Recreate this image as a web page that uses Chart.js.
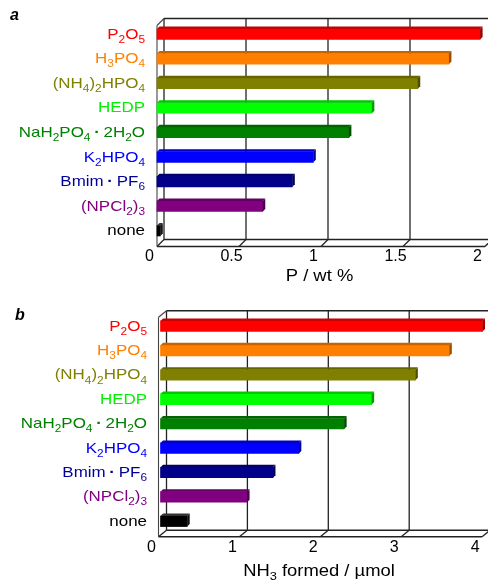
<!DOCTYPE html>
<html>
<head>
<meta charset="utf-8">
<script src="https://cdn.jsdelivr.net/npm/chart.js@4.4.1/dist/chart.umd.min.js"></script>
<style>
  html, body { margin: 0; padding: 0; background: #fff; }
  #wrap { position: relative; width: 488px; height: 580px; overflow: hidden; }
  .panel { position: absolute; left: 0; width: 488px; height: 290px; }
</style>
</head>
<body>
<div id="wrap">
  <div class="panel" style="top:0"><canvas id="chartA" width="488" height="290"></canvas></div>
  <div class="panel" style="top:290px"><canvas id="chartB" width="488" height="290"></canvas></div>
</div>
<script>
// "_x" means x is a subscript
const categories = [
  "P_2O_5", "H_3PO_4", "(NH_4)_2HPO_4", "HEDP", "NaH_2PO_4·2H_2O",
  "K_2HPO_4", "Bmim·PF_6", "(NPCl_2)_3", "none"
];
const barColors = [
  "#FF0000", "#FF8000", "#808000", "#00FF00", "#008000",
  "#0000FF", "#00008B", "#800080", "#000000"
];
const labelColors = [
  "#FF0000", "#FF8000", "#808000", "#00F000", "#008000",
  "#0000FF", "#000099", "#800080", "#000000"
];
const phosphorusWt = [1.97, 1.78, 1.59, 1.31, 1.17, 0.953, 0.825, 0.645, 0.02];
const ammoniaUmol = [3.98, 3.57, 3.15, 2.61, 2.27, 1.71, 1.39, 1.07, 0.33];
const ticksA = [0, 0.5, 1, 1.5, 2];
const ticksB = [0, 1, 2, 3, 4];

const FONT = "'Liberation Sans', Arial, sans-serif";

function parseRich(str) {
  const out = [];
  for (let i = 0; i < str.length; i++) {
    if (str[i] === "_") {
      out.push({ t: str[i + 1], sub: true });
      i++;
    } else {
      out.push({ t: str[i], sub: false });
    }
  }
  return out;
}

// draws text with subscripts, anchored by align ("right" or "center")
function drawRich(ctx, str, x, y, size, color, align, stretch) {
  const parts = parseRich(str);
  const subSize = size * 0.7;
  let width = 0;
  parts.forEach((p) => {
    ctx.font = (p.sub ? subSize : size) + "px " + FONT;
    p.w = ctx.measureText(p.t).width;
    if (p.t === "·") p.pad = size * 0.22;
    else p.pad = 0;
    width += p.w + 2 * p.pad;
  });
  ctx.save();
  ctx.translate(x, y);
  ctx.scale(stretch, 1);
  let cx = align === "right" ? -width : -width / 2;
  ctx.fillStyle = color;
  ctx.textBaseline = "alphabetic";
  ctx.textAlign = "left";
  parts.forEach((p) => {
    ctx.font = (p.sub ? subSize : size) + "px " + FONT;
    cx += p.pad;
    if (p.t === "·") {
      ctx.font = "bold " + size + "px " + FONT;
    }
    ctx.fillText(p.t, cx, p.sub ? size * 0.27 : 0);
    cx += p.w + p.pad;
  });
  ctx.restore();
}

function shade(hex, f) {
  const n = parseInt(hex.slice(1), 16);
  const r = Math.round(((n >> 16) & 255) * f);
  const g = Math.round(((n >> 8) & 255) * f);
  const b = Math.round((n & 255) * f);
  return "rgb(" + r + "," + g + "," + b + ")";
}

const box3d = {
  id: "box3d",
  beforeDatasetsDraw(chart, args, opts) {
    const ctx = chart.ctx;
    const ca = chart.chartArea;
    const xs = chart.scales.x;
    const hy = opts.dy / 2;
    const fTop = ca.top + hy, fBot = ca.bottom + hy;
    const bTop = ca.top - hy, bBot = ca.bottom - hy;
    const fx = (v) => xs.getPixelForValue(v) + opts.fx;
    const bx = (v) => xs.getPixelForValue(v) + opts.fx + opts.dx;
    const min = xs.min, max = xs.max;

    function line(x1, y1, x2, y2) {
      ctx.beginPath();
      ctx.moveTo(x1, y1);
      ctx.lineTo(x2, y2);
      ctx.stroke();
    }

    ctx.save();
    ctx.strokeStyle = "#222";
    ctx.lineWidth = 1.3;
    xs.ticks.forEach((t) => {
      line(bx(t.value), bTop, bx(t.value), bBot);
      line(bx(t.value), bBot, fx(t.value), fBot);
    });
    line(bx(min), bTop, bx(max), bTop);
    line(bx(min), bBot, bx(max), bBot);
    line(fx(min), fBot, fx(max), fBot);
    ctx.strokeStyle = "#444";
    ctx.lineWidth = 1.1;
    line(fx(min), fTop, fx(min), fBot);
    line(fx(min), fTop, bx(min), bTop);
    ctx.restore();
  },
  afterDatasetsDraw(chart, args, opts) {
    const ctx = chart.ctx;
    const meta = chart.getDatasetMeta(0);
    const d = opts.cap;
    ctx.save();
    meta.data.forEach((bar, i) => {
      const c = barColors[i];
      const top = bar.y - bar.height / 2;
      const bot = bar.y + bar.height / 2;
      // top face
      ctx.fillStyle = i === 8 ? "#333" : shade(c, 0.78);
      ctx.beginPath();
      ctx.moveTo(bar.base, top);
      ctx.lineTo(bar.x, top);
      ctx.lineTo(bar.x + d, top - d);
      ctx.lineTo(bar.base + d, top - d);
      ctx.closePath();
      ctx.fill();
      // end face
      ctx.fillStyle = i === 8 ? "#111" : shade(c, 0.6);
      ctx.beginPath();
      ctx.moveTo(bar.x, top);
      ctx.lineTo(bar.x + d, top - d);
      ctx.lineTo(bar.x + d, bot - d);
      ctx.lineTo(bar.x, bot);
      ctx.closePath();
      ctx.fill();
    });
    ctx.restore();
  },
  afterDraw(chart, args, opts) {
    const ctx = chart.ctx;
    const ys = chart.scales.y;
    categories.forEach((cat, i) => {
      const y = ys.getPixelForValue(i);
      drawRich(ctx, cat, opts.labelRight, y + 4.5, 15, labelColors[i], "right", 1.13);
    });
    drawRich(ctx, opts.title, opts.titleX, opts.titleY, 16, "#000", "center", 1.15);
    ctx.save();
    ctx.font = "italic bold 16px " + FONT;
    ctx.fillStyle = "#000";
    ctx.textAlign = "left";
    ctx.textBaseline = "alphabetic";
    ctx.fillText(opts.letter, opts.letterX, opts.letterY);
    ctx.restore();
  },
};

function makeChart(id, values, ticks, max, pad, axisHeight, box) {
  const ctx = document.getElementById(id).getContext("2d");
  return new Chart(ctx, {
    type: "bar",
    data: {
      labels: categories,
      datasets: [
        {
          data: values,
          backgroundColor: barColors,
          borderWidth: 0,
          barThickness: 10.5,
          clip: false,
        },
      ],
    },
    options: {
      indexAxis: "y",
      responsive: false,
      animation: false,
      devicePixelRatio: 1,
      layout: { padding: pad },
      plugins: {
        legend: { display: false },
        tooltip: { enabled: false },
        box3d: box,
      },
      scales: {
        x: {
          min: 0,
          max: max,
          grid: { display: false, drawTicks: false, tickLength: 0 },
          border: { display: false },
          afterBuildTicks: (scale) => {
            scale.ticks = ticks.map((v) => ({ value: v }));
          },
          afterFit: (scale) => {
            scale.height = axisHeight;
            scale.paddingLeft = 0;
            scale.paddingRight = 0;
          },
          ticks: {
            color: "#000",
            padding: 4,
            labelOffset: box.labelOffset,
            maxRotation: 0,
            font: { family: FONT, size: 16 },
            callback: (v) => String(v),
          },
        },
        y: { display: false },
      },
    },
    plugins: [box3d],
  });
}

makeChart("chartA", phosphorusWt, ticksA, 2,
  { left: 157, top: 22, right: 3, bottom: 0 }, 47,
  {
    dx: 7, dy: 7, fx: 0, cap: 2.5, labelOffset: -7.5,
    labelRight: 145, title: "P / wt %", titleX: 319.5, titleY: 280.5,
    letter: "a", letterX: 10, letterY: 20,
  });

makeChart("chartB", ammoniaUmol, ticksB, 4,
  { left: 160.5, top: 24, right: 3.9, bottom: 0 }, 46.5,
  {
    dx: 8, dy: 6.5, fx: -2, cap: 2.5, labelOffset: -9,
    labelRight: 147, title: "NH_3 formed / µmol", titleX: 319, titleY: 286,
    letter: "b", letterX: 15, letterY: 30,
  });
</script>
</body>
</html>
